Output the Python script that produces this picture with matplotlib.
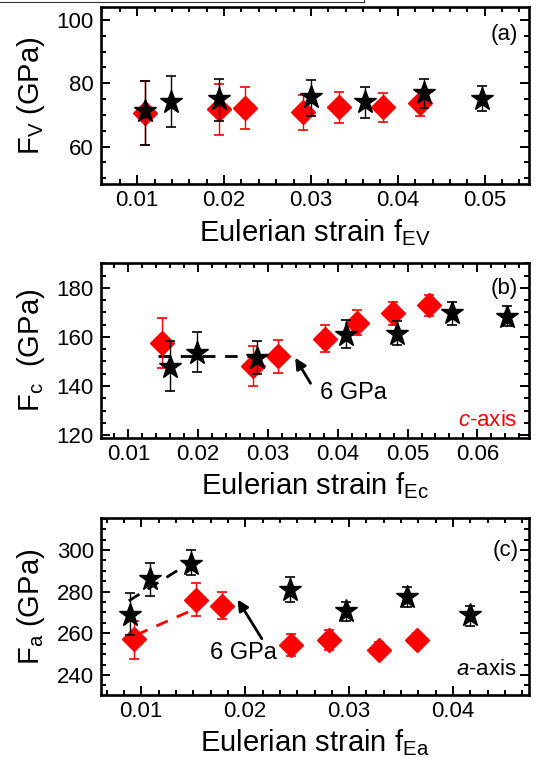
import matplotlib
matplotlib.use('Agg')
import matplotlib.pyplot as plt
from matplotlib.ticker import MultipleLocator
from matplotlib.lines import Line2D

plt.rcParams['font.family'] = ['Liberation Sans', 'DejaVu Sans']
plt.rcParams['mathtext.fontset'] = 'custom'
plt.rcParams['mathtext.rm'] = 'Liberation Sans'
plt.rcParams['mathtext.it'] = 'Liberation Sans:italic'

# ---------------- data ----------------
# panel (a): F_V vs f_EV
a_red_x = [0.0109, 0.0194, 0.0224, 0.0291, 0.0332, 0.0383, 0.0425]
a_red_y = [70.5, 71.8, 72.1, 70.9, 72.6, 72.4, 73.7]
a_red_lo = [60.5, 63.7, 65.5, 65.2, 67.6, 67.9, 69.7]
a_red_hi = [80.8, 79.8, 78.9, 76.3, 77.4, 76.9, 77.5]
a_blk_x = [0.0109, 0.0139, 0.0194, 0.0300, 0.0362, 0.0430, 0.0497]
a_blk_y = [71.1, 74.2, 75.0, 75.7, 74.2, 76.9, 75.0]
a_blk_lo = [60.5, 66.3, 68.2, 69.7, 69.0, 72.1, 71.1]
a_blk_hi = [80.8, 82.4, 81.4, 81.1, 78.9, 81.3, 79.2]

# panel (b): F_c vs f_Ec
b_red_x = [0.0148, 0.0279, 0.0314, 0.0382, 0.0427, 0.0479, 0.0530]
b_red_y = [157.6, 148.3, 152.3, 159.3, 165.8, 169.7, 173.0]
b_red_lo = [147.2, 140.0, 145.5, 153.7, 160.9, 165.0, 168.7]
b_red_hi = [167.7, 156.2, 158.6, 165.0, 170.8, 174.1, 177.1]
b_blk_x = [0.0160, 0.0198, 0.0284, 0.0412, 0.0485, 0.0564, 0.0642]
b_blk_y = [147.9, 153.5, 151.5, 160.9, 161.3, 169.7, 168.3]
b_blk_lo = [138.0, 145.6, 144.8, 155.3, 156.6, 165.0, 164.4]
b_blk_hi = [158.4, 161.9, 158.2, 166.7, 166.5, 174.1, 172.5]
b_guide_x = [0.0142, 0.0277]
b_guide_y = [152.3, 152.3]

# panel (c): F_a vs f_Ea
c_red_x = [0.0093, 0.0153, 0.0178, 0.0244, 0.0281, 0.0329, 0.0365]
c_red_y = [257.3, 276.0, 273.2, 254.6, 256.8, 252.2, 257.0]
c_red_lo = [247.8, 268.1, 266.8, 249.0, 252.1, 248.6, 253.6]
c_red_hi = [266.0, 284.3, 280.0, 259.8, 261.6, 255.6, 260.1]
c_blk_x = [0.0089, 0.0108, 0.0148, 0.0243, 0.0297, 0.0356, 0.0416]
c_blk_y = [268.9, 285.9, 293.2, 280.8, 270.9, 277.6, 268.9]
c_blk_lo = [259.4, 277.9, 287.9, 275.2, 265.7, 272.8, 263.6]
c_blk_hi = [279.2, 293.8, 299.8, 286.8, 275.2, 282.1, 273.2]
c_red_guide_x = [0.0095, 0.0153]
c_red_guide_y = [259.2, 272.0]
c_blk_guide_x = [0.0088, 0.0146]
c_blk_guide_y = [275.6, 293.6]

W, H = 540, 766
fig = plt.figure(figsize=(W / 100, H / 100), dpi=100)


def rect(left, right, top, bottom):
    return [left / W, 1 - bottom / H, (right - left) / W, (bottom - top) / H]


axa = fig.add_axes(rect(100.7, 529, 7.3, 184.3))
axb = fig.add_axes(rect(100.7, 529, 263.3, 438.3))
axc = fig.add_axes(rect(100.7, 529, 518.3, 695.0))

dash = (0, (4.5, 3.5))


def draw(ax, rx, ry, rlo, rhi, kx, ky, klo, khi):
    ax.errorbar(rx, ry, yerr=[[y - l for y, l in zip(ry, rlo)], [h - y for y, h in zip(ry, rhi)]],
                fmt='D', color='red', ms=12, mec='red', ecolor='red', elinewidth=1.0,
                capsize=3.5, capthick=1.2, zorder=3)
    ax.errorbar(kx, ky, yerr=[[y - l for y, l in zip(ky, klo)], [h - y for y, h in zip(ky, khi)]],
                fmt='*', color='black', ms=17, mec='black', ecolor='black', elinewidth=1.0,
                capsize=3.5, capthick=1.2, zorder=4)


draw(axa, a_red_x, a_red_y, a_red_lo, a_red_hi, a_blk_x, a_blk_y, a_blk_lo, a_blk_hi)
draw(axb, b_red_x, b_red_y, b_red_lo, b_red_hi, b_blk_x, b_blk_y, b_blk_lo, b_blk_hi)
draw(axc, c_red_x, c_red_y, c_red_lo, c_red_hi, c_blk_x, c_blk_y, c_blk_lo, c_blk_hi)

axb.plot(b_guide_x, b_guide_y, color='black', lw=2.0, ls=dash, zorder=2)
axc.plot(c_red_guide_x, c_red_guide_y, color='red', lw=2.0, ls=dash, zorder=2)
axc.plot(c_blk_guide_x, c_blk_guide_y, color='black', lw=2.0, ls=dash, zorder=2)

# limits
axa.set_xlim(0.0058, 0.0551)
axa.set_ylim(48.1, 104.0)
axb.set_xlim(0.00603, 0.0674)
axb.set_ylim(118.7, 190.0)
axc.set_xlim(0.0061, 0.0473)
axc.set_ylim(230.4, 315.2)

axa.set_xticks([0.01, 0.02, 0.03, 0.04, 0.05])
axa.set_yticks([60, 80, 100])
axb.set_xticks([0.01, 0.02, 0.03, 0.04, 0.05, 0.06])
axb.set_yticks([120, 140, 160, 180])
axc.set_xticks([0.01, 0.02, 0.03, 0.04])
axc.set_yticks([240, 260, 280, 300])

axa.xaxis.set_minor_locator(MultipleLocator(0.002))
axb.xaxis.set_minor_locator(MultipleLocator(0.002))
axc.xaxis.set_minor_locator(MultipleLocator(0.01 / 6))
for ax in (axa, axb, axc):
    ax.yaxis.set_minor_locator(MultipleLocator(5))
    ax.tick_params(which='both', direction='in', top=True, right=True, width=1.4)
    ax.tick_params(which='major', length=6.5, labelsize=16, pad=4)
    ax.tick_params(axis='y', which='major', pad=5)
    ax.tick_params(which='minor', length=3.5)
    for s in ax.spines.values():
        s.set_linewidth(1.9)

axa.set_xlabel(r'Eulerian strain f$_{\mathrm{EV}}$', fontsize=21)
axb.set_xlabel(r'Eulerian strain f$_{\mathrm{Ec}}$', fontsize=21)
axc.set_xlabel(r'Eulerian strain f$_{\mathrm{Ea}}$', fontsize=21)
axa.set_ylabel(r'F$_{\mathrm{V}}$ (GPa)', fontsize=21)
axb.set_ylabel(r'F$_{\mathrm{c}}$  (GPa)', fontsize=21)
axc.set_ylabel(r'F$_{\mathrm{a}}$ (GPa)', fontsize=21)
for ax in (axa, axb, axc):
    ax.xaxis.set_label_coords(0.5, -0.185)
    ax.yaxis.set_label_coords(-0.125, 0.5)

# panel labels and annotations
axa.text(0.975, 0.845, '(a)', transform=axa.transAxes, ha='right', va='center', fontsize=16)
axb.text(0.975, 0.855, '(b)', transform=axb.transAxes, ha='right', va='center', fontsize=16)
axc.text(0.975, 0.82, '(c)', transform=axc.transAxes, ha='right', va='center', fontsize=16)
axb.text(0.972, 0.10, r'$c$-axis', transform=axb.transAxes, ha='right', va='center',
         fontsize=16, color='red')
axc.text(0.972, 0.145, r'$a$-axis', transform=axc.transAxes, ha='right', va='center',
         fontsize=16, color='black')

arrow = dict(arrowstyle='-|>', color='black', lw=2.0, mutation_scale=16, shrinkA=0, shrinkB=0)
axb.annotate('', xy=(0.0339, 151.5), xytext=(0.0361, 141.1), arrowprops=arrow)
axb.text(0.0375, 137.1, '6 GPa', ha='left', va='center', fontsize=17)
axc.annotate('', xy=(0.01927, 276.2), xytext=(0.0216, 257.4), arrowprops=arrow)
axc.text(0.0198, 250.5, '6 GPa', ha='center', va='center', fontsize=17)

# remnant frame line at top of image
fig.add_artist(Line2D([0, 364 / W], [1 - 1.7 / H, 1 - 1.7 / H], color='#333333', lw=0.8))
fig.add_artist(Line2D([364 / W, 364 / W], [1, 1 - 1.7 / H], color='#333333', lw=0.8))

fig.savefig('out.png', dpi=100)
